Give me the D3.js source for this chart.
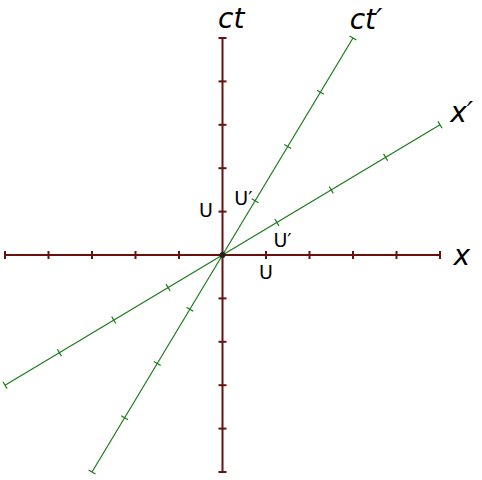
<!DOCTYPE html><html><head><meta charset="utf-8">
<script src="https://cdn.jsdelivr.net/npm/d3@7"></script>
<style>body{margin:0;background:#fff}</style></head><body>
<svg id="c" width="482" height="480"></svg>
<script>
const axisTicks=[-5,-4,-3,-2,-1,1,2,3,4,5];
const velocity=[0.6];
const primeTicksCt=[-4,-3,-2,-1,1,2,3,4];
const primeTicksX=[-4,-3,-2,-1,1,2,3,4];
const labels=[{t:"ct",x:0.2,y:5.42,s:28},{t:"ct′",x:3.3,y:5.4,s:28},{t:"x′",x:5.5,y:3.25,s:28},{t:"x",x:5.5,y:-0.05,s:28},
{t:"U",x:-0.38,y:1,s:19},{t:"U′",x:0.48,y:1.28,s:19},{t:"U′",x:1.38,y:0.32,s:19},{t:"U",x:1,y:-0.42,s:19}];
const sx=d3.scaleLinear([-5,5],[5,440]), sy=d3.scaleLinear([-5,5],[472,38]);
const svg=d3.select("#c"),red="#6b1010",green="#1a7a1a";
const v=velocity[0],g=1/Math.sqrt(1-v*v);
svg.append("line").attr("x1",sx(-5)).attr("x2",sx(5)).attr("y1",sy(0)).attr("y2",sy(0)).attr("stroke",red).attr("stroke-width",2);
svg.append("line").attr("x1",sx(0)).attr("x2",sx(0)).attr("y1",sy(-5)).attr("y2",sy(5)).attr("stroke",red).attr("stroke-width",2);
axisTicks.forEach(t=>{
 svg.append("line").attr("x1",sx(t)).attr("x2",sx(t)).attr("y1",sy(0)-4).attr("y2",sy(0)+4).attr("stroke",red).attr("stroke-width",2);
 svg.append("line").attr("y1",sy(t)).attr("y2",sy(t)).attr("x1",sx(0)-4).attr("x2",sx(0)+4).attr("stroke",red).attr("stroke-width",2);
});
svg.append("line").attr("x1",sx(-3)).attr("y1",sy(-5)).attr("x2",sx(3)).attr("y2",sy(5)).attr("stroke",green).attr("stroke-width",1.2);
svg.append("line").attr("x1",sx(-5)).attr("y1",sy(-3)).attr("x2",sx(5)).attr("y2",sy(3)).attr("stroke",green).attr("stroke-width",1.2);
const n=Math.sqrt(1+v*v);
primeTicksCt.forEach(t=>{const px=sx(g*v*t),py=sy(g*t);const ux=1/n*4,uy=v/n*4;
 svg.append("line").attr("x1",px-ux).attr("y1",py-uy).attr("x2",px+ux).attr("y2",py+uy).attr("stroke",green).attr("stroke-width",1.2);});
primeTicksX.forEach(t=>{const px=sx(g*t),py=sy(g*v*t);const ux=v/n*4,uy=1/n*4;
 svg.append("line").attr("x1",px-ux).attr("y1",py-uy).attr("x2",px+ux).attr("y2",py+uy).attr("stroke",green).attr("stroke-width",1.2);});
svg.append("circle").attr("cx",sx(0)).attr("cy",sy(0)).attr("r",3).attr("fill","#222");
labels.forEach(l=>svg.append("text").attr("x",sx(l.x)).attr("y",sy(l.y)).attr("text-anchor","middle").attr("dominant-baseline","middle")
 .attr("font-family","DejaVu Sans").attr("font-size",l.s).attr("font-style",l.s>20?"italic":"normal").text(l.t));
</script></body></html>
